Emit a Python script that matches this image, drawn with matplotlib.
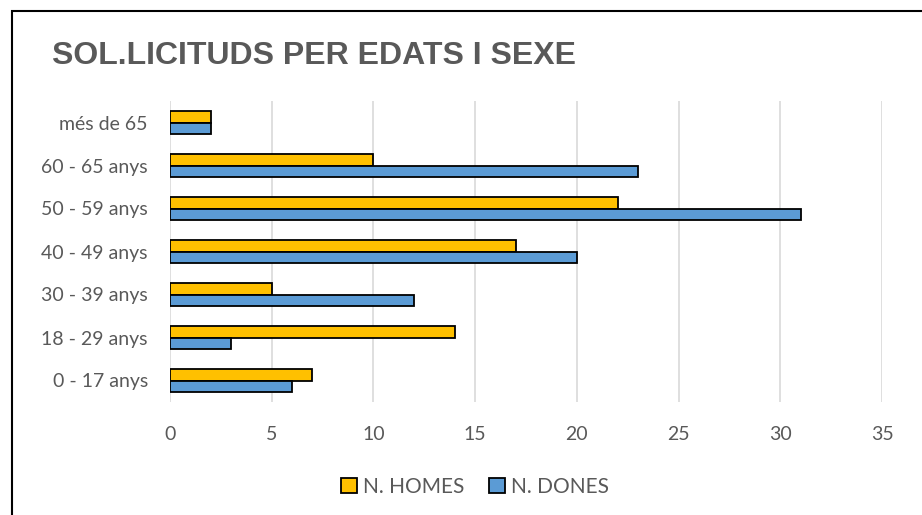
import numpy as np
import matplotlib.pyplot as plt
from matplotlib.patches import Rectangle

categories = ['0 - 17 anys', '18 - 29 anys', '30 - 39 anys', '40 - 49 anys',
              '50 - 59 anys', '60 - 65 anys', 'més de 65']
homes = [7, 14, 5, 17, 22, 10, 2]
dones = [6, 3, 12, 20, 31, 23, 2]
xticks = [0, 5, 10, 15, 20, 25, 30, 35]

W, H = 922, 515
fig = plt.figure(figsize=(W / 100, H / 100), dpi=100)
ax = fig.add_axes([170 / W, (H - 402) / H, (882 - 170) / W, (402 - 101) / H])

grey = '#595959'
font = 'Lato'
y = np.arange(len(categories))
h = 0.27
ax.barh(y + h / 2, homes, height=h, color='#FFC000', edgecolor='black',
        linewidth=1.3, label='N. HOMES', zorder=3)
ax.barh(y - h / 2, dones, height=h, color='#5B9BD5', edgecolor='black',
        linewidth=1.3, label='N. DONES', zorder=3)

ax.set_xlim(0, 35)
ax.set_ylim(-0.5, 6.5)
ax.set_xticks(xticks)
ax.set_yticks(y)
ax.set_yticklabels(categories)
ax.grid(axis='x', color='#D9D9D9', linewidth=1.2, zorder=0)
ax.tick_params(length=0, labelsize=14, labelcolor=grey)
ax.tick_params(axis='x', pad=17)
ax.tick_params(axis='y', pad=16)
for lab in ax.get_xticklabels() + ax.get_yticklabels():
    lab.set_fontfamily(font)
for s in ax.spines.values():
    s.set_visible(False)

fig.text(52 / W, 1 - 56 / H, 'SOL.LICITUDS PER EDATS I SEXE', fontsize=23,
         fontweight='bold', color=grey, family='Liberation Sans', va='center')

leg = fig.legend(loc='center', bbox_to_anchor=(475 / W, 1 - 487 / H), ncol=2,
                 frameon=False, handlelength=0.75, handleheight=0.75,
                 handletextpad=0.3, columnspacing=1.2,
                 prop={'family': font, 'size': 15})
for t in leg.get_texts():
    t.set_color(grey)

# chart frame, partly cropped at the right and bottom
fig.patches.append(Rectangle((12 / W, -0.1), 1.1, 1.1 - 11 / H,
                             transform=fig.transFigure, fill=False,
                             edgecolor='black', linewidth=1.5))

fig.savefig('out.png', dpi=100)
